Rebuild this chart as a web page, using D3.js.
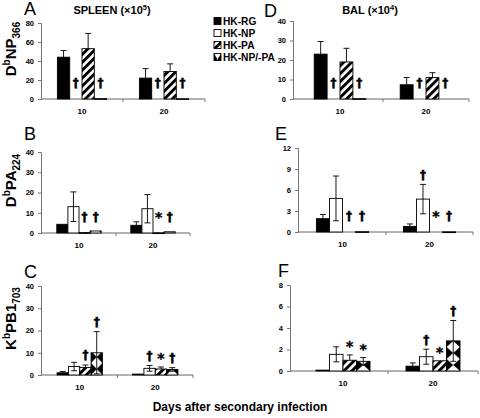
<!DOCTYPE html>
<html><head><meta charset="utf-8">
<script src="https://cdn.jsdelivr.net/npm/d3@7"></script>
<style>body{margin:0;background:#fff} svg{display:block;font-family:'Liberation Sans',Arial,sans-serif}</style>
</head><body><svg id="c" width="480" height="418"></svg>
<script>
// ---- data ----
const categories = ["10", "20"];
const series = ["HK-RG", "HK-NP", "HK-PA", "HK-NP/-PA"];

const valuesA = [[44, 0, 53, 0.4], [22, 0, 29, 0.3]];
const errA    = [[7, 0, 16, 0], [10, 0, 8, 0]];
const marksA  = [["", "†", "", "†"], ["", "†", "", "†"]];
const ticksA  = [0, 20, 40, 60, 80];

const valuesB = [[4.3, 13, 0.2, 1.0], [3.8, 12, 0.1, 0.6]];
const errB    = [[0, 7.3, 0, 0], [1.7, 7, 0, 0]];
const marksB  = [["", "", "†", "†"], ["", "", "*", "†"]];
const ticksB  = [0, 10, 20, 30, 40];

const valuesC = [[1.0, 3.8, 3.4, 10], [0.4, 3.0, 2.7, 2.5]];
const errC    = [[0.6, 1.9, 1.1, 9.5], [0, 1.3, 0.9, 0.8]];
const marksC  = [["", "", "†", "†"], ["", "†", "*", "†"]];
const ticksC  = [0, 10, 20, 30, 40];

const valuesD = [[23, 0, 19, 0.2], [7.3, 0, 11, 0]];
const errD    = [[6.5, 0, 7, 0], [3.7, 0, 2.5, 0]];
const marksD  = [["", "†", "", "†"], ["", "†", "", "†"]];
const ticksD  = [0, 10, 20, 30, 40];

const valuesE = [[1.9, 4.8, 0, 0.05], [0.8, 4.7, 0, 0.03]];
const errE    = [[0.6, 3.2, 0, 0], [0.35, 2.1, 0, 0]];
const marksE  = [["", "", "†", "†"], ["", "†", "*", "†"]];
const ticksE  = [0, 3, 6, 9, 12];

const valuesF = [[0.08, 1.55, 1.0, 0.9], [0.45, 1.33, 0.95, 2.8]];
const errF    = [[0, 0.7, 0.5, 0.35], [0.3, 0.7, 0, 1.9]];
const marksF  = [["", "", "*", "*"], ["", "†", "*", "†"]];
const ticksF  = [0, 2, 4, 6, 8];

const yTitles = [
  ["D", "b", "NP", "366"],
  ["D", "b", "PA", "224"],
  ["K", "b", "PB1", "703"]
];

// ---- layout ----
const panels = [
  {letter: "A", v: valuesA, e: errA, m: marksA, t: ticksA, ax: 41,  band: [41, 205],  y0: 99,  y1: 23,  lx: 24,  ly: 14.5},
  {letter: "B", v: valuesB, e: errB, m: marksB, t: ticksB, ax: 41,  band: [42, 190],  y0: 233, y1: 152, lx: 24,  ly: 140},
  {letter: "C", v: valuesC, e: errC, m: marksC, t: ticksC, ax: 41,  band: [42, 193],  y0: 375, y1: 286, lx: 24,  ly: 278},
  {letter: "D", v: valuesD, e: errD, m: marksD, t: ticksD, ax: 293, band: [297, 469], y0: 99,  y1: 21,  lx: 264, ly: 17},
  {letter: "E", v: valuesE, e: errE, m: marksE, t: ticksE, ax: 298, band: [299, 473], y0: 232, y1: 148, lx: 275, ly: 140},
  {letter: "F", v: valuesF, e: errF, m: marksF, t: ticksF, ax: 290, band: [298, 478], y0: 371, y1: 285, lx: 278, ly: 277}
];

const svg = d3.select("#c");
const defs = svg.append("defs");

// hatch pattern "/"
const hp = defs.append("pattern").attr("id", "hatch").attr("patternUnits", "userSpaceOnUse")
  .attr("width", 5.6).attr("height", 5.6).attr("patternTransform", "rotate(45)");
hp.append("rect").attr("width", 5.6).attr("height", 5.6).attr("fill", "#fff");
hp.append("rect").attr("width", 2.9).attr("height", 5.6).attr("fill", "#000");

let bowCount = 0;
function bowPattern(x, y, w) {
  const id = "bow" + (bowCount++);
  const h = 12;
  const p = defs.append("pattern").attr("id", id).attr("patternUnits", "userSpaceOnUse")
    .attr("x", x).attr("y", y).attr("width", w).attr("height", h);
  p.append("rect").attr("width", w).attr("height", h).attr("fill", "#fff");
  p.append("path").attr("d", `M0,0L${w/2},${h/2}L0,${h}Z M${w},0L${w/2},${h/2}L${w},${h}Z`).attr("fill", "#000");
  return "url(#" + id + ")";
}

const fills = ["#000", "#fff", "url(#hatch)", null];

panels.forEach((P, pi) => {
  const g = svg.append("g");
  const y = d3.scaleLinear().domain([0, d3.max(P.t)]).range([P.y0, P.y1]);
  const x0 = d3.scaleBand().domain(categories).range(P.band);
  const bw = x0.bandwidth();
  const x1 = d3.scaleBand().domain(series).range([bw * 0.2, bw * 0.8]);

  // y axis
  const yAxis = d3.axisLeft(y).tickValues(P.t).tickSize(3).tickPadding(4);
  const ya = g.append("g").attr("transform", `translate(${P.ax},0)`).call(yAxis);
  ya.select(".domain").attr("stroke", "#777");
  ya.selectAll(".tick line").attr("stroke", "#777");
  ya.selectAll("text").attr("font-size", 7.5).attr("font-weight", "bold").attr("fill", "#000")
    .attr("font-family", "'Liberation Sans',Arial,sans-serif");

  // x axis line & ticks
  g.append("line").attr("x1", P.ax).attr("x2", P.band[1]).attr("y1", P.y0).attr("y2", P.y0)
    .attr("stroke", "#666").attr("stroke-width", 1);
  const bounds = [P.band[0] + bw, P.band[1]];
  g.selectAll(".xt").data(bounds).join("line").attr("x1", d => d).attr("x2", d => d)
    .attr("y1", P.y0).attr("y2", P.y0 + 3).attr("stroke", "#777");
  g.selectAll(".xl").data(categories).join("text")
    .attr("x", d => x0(d) + bw / 2).attr("y", P.y0 + 15)
    .attr("text-anchor", "middle").attr("font-size", 8).attr("font-weight", "bold").text(d => d);

  // bars
  const mg = g.append("g").attr("opacity", 0.995);
  categories.forEach((c, ci) => {
    series.forEach((s, si) => {
      const v = P.v[ci][si], e = P.e[ci][si], mk = P.m[ci][si];
      const bx = x0(c) + x1(s), w = x1.bandwidth();
      if (v > 0) {
        const fill = si === 3 ? bowPattern(bx, P.y0, w) : fills[si];
        g.append("rect").attr("x", bx).attr("y", y(v)).attr("width", w)
          .attr("height", Math.max(0.8, P.y0 - y(v)))
          .attr("fill", fill).attr("stroke", "#000").attr("stroke-width", 0.9);
      }
      const cx = bx + w / 2;
      if (e > 0) {
        const lo = (si === 0 || si === 2) ? v : Math.max(0, v - e);
        g.append("line").attr("x1", cx).attr("x2", cx).attr("y1", y(lo)).attr("y2", y(v + e))
          .attr("stroke", "#000").attr("stroke-width", 0.9);
        g.append("line").attr("x1", cx - 3).attr("x2", cx + 3).attr("y1", y(v + e)).attr("y2", y(v + e))
          .attr("stroke", "#000").attr("stroke-width", 0.9);
        if (lo < v) {
          g.append("line").attr("x1", cx - 3).attr("x2", cx + 3).attr("y1", y(lo)).attr("y2", y(lo))
            .attr("stroke", "#000").attr("stroke-width", 0.9);
        }
      }
      if (mk) {
        const cy = Math.min(y(v + e) - 10, P.y0 - 17);
        mg.append("text").attr("x", cx).attr("y", cy + (mk === "*" ? 6 : 4.5))
          .attr("text-anchor", "middle").attr("font-size", mk === "*" ? 14 : 12)
          .attr("font-family", "'DejaVu Sans',sans-serif")
          .attr("fill", "#000").attr("stroke", "#000").attr("stroke-width", 0.4)
          .attr("font-weight", "bold").text(mk);
      }
    });
  });
  mg.raise();

  // panel letter
  svg.append("text").attr("x", P.lx).attr("y", P.ly).attr("font-size", 18).text(P.letter);

  // y titles (left column only)
  if (pi < 3) {
    const yt = yTitles[pi];
    const cyt = (P.y0 + P.y1) / 2 - 12;
    const t = svg.append("text").attr("transform", `translate(16,${cyt}) rotate(-90)`)
      .attr("text-anchor", "middle").attr("font-weight", "bold").attr("font-size", 15);
    t.append("tspan").text(yt[0]);
    t.append("tspan").attr("font-size", 10).attr("dy", -6).text(yt[1]);
    t.append("tspan").attr("dy", 6).text(yt[2]);
    t.append("tspan").attr("font-size", 10).attr("dy", 4).text(yt[3]);
  }
});

// column titles
const t1 = svg.append("text").attr("x", 112).attr("y", 14).attr("text-anchor", "middle")
  .attr("font-size", 11).attr("font-weight", "bold");
t1.append("tspan").text("SPLEEN (×10");
t1.append("tspan").attr("font-size", 7.5).attr("dy", -4).text("5");
t1.append("tspan").attr("dy", 4).text(")");
const t2 = svg.append("text").attr("x", 370).attr("y", 14).attr("text-anchor", "middle")
  .attr("font-size", 11).attr("font-weight", "bold");
t2.append("tspan").text("BAL (×10");
t2.append("tspan").attr("font-size", 7.5).attr("dy", -4).text("4");
t2.append("tspan").attr("dy", 4).text(")");

// legend
const lg = svg.append("g");
series.forEach((s, i) => {
  const cy = 21 + i * 12;
  const fill = i === 3 ? bowPattern(214, cy - 3.5, 7) : fills[i];
  lg.append("rect").attr("x", 214).attr("y", cy - 3.5).attr("width", 7).attr("height", 7)
    .attr("fill", fill).attr("stroke", "#000").attr("stroke-width", 0.9);
  lg.append("text").attr("x", 223).attr("y", cy + 3.7).attr("font-size", 10.2)
    .attr("font-weight", "bold").text(s);
});

// x title
svg.append("text").attr("x", 240).attr("y", 411).attr("text-anchor", "middle")
  .attr("font-size", 12).attr("font-weight", "bold").text("Days after secondary infection");
</script></body></html>
